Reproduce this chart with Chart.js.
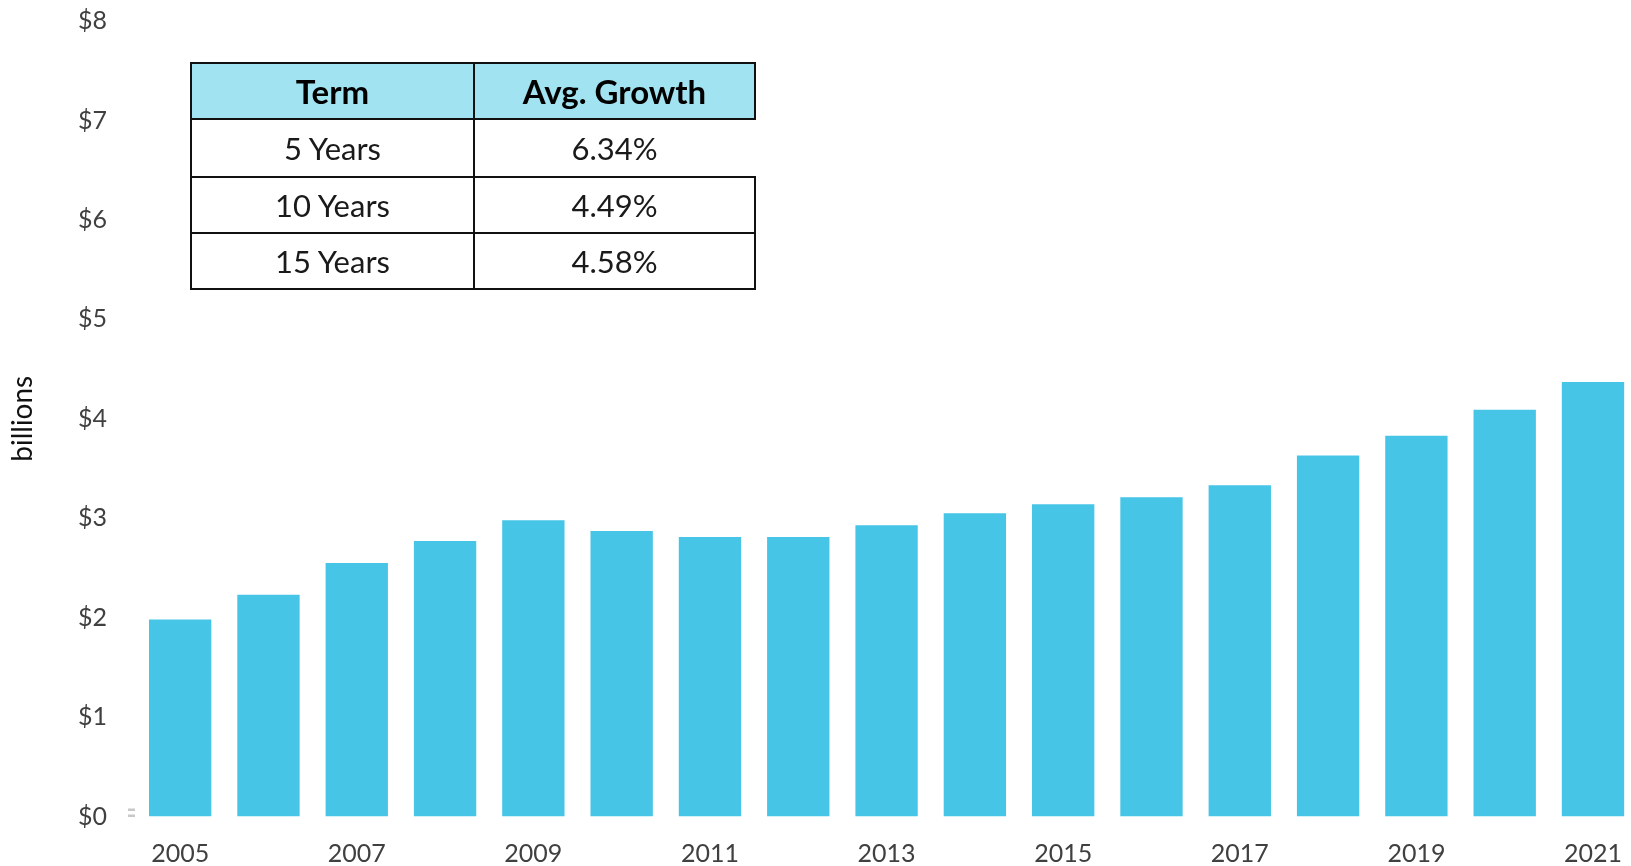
<!DOCTYPE html>
<html>
<head>
<meta charset="utf-8">
<script src="https://cdn.jsdelivr.net/npm/chart.js@4/dist/chart.umd.min.js"></script>
<style>
  html, body { margin: 0; padding: 0; overflow: hidden; background: #fff; }
  #wrap { position: relative; width: 1631px; height: 866px; overflow: hidden; }
  #grafico { position: absolute; left: 0; top: 0; }
  #tabela {
    position: absolute; left: 190px; top: 62px;
    border-collapse: collapse; font-family: Lato, "Open Sans", sans-serif;
  }
  #tabela th, #tabela td {
    border: 2px solid #111; text-align: center; padding: 0;
    font-size: 31px; color: #1a1a1a; line-height: 1;
  }
  #tabela th { background: #a2e3f1; font-weight: bold; font-size: 33px; height: 54px; color: #000; }
  #tabela td { height: 54px; }
  #tabela tr.primeira td { height: 56px; }
  #tabela tr.primeira td.semborda { border-right-color: transparent; }
</style>
</head>
<body>
<div id="wrap">
  <canvas id="grafico" width="1644" height="866"></canvas>
  <table id="tabela"></table>
</div>
<script>
// dados do grafico
var anos = ['2005', '2006', '2007', '2008', '2009', '2010', '2011', '2012', '2013',
            '2014', '2015', '2016', '2017', '2018', '2019', '2020', '2021'];
var valores = [1.98, 2.23, 2.55, 2.77, 2.98, 2.87, 2.81, 2.81, 2.93,
               3.05, 3.14, 3.21, 3.33, 3.63, 3.83, 4.09, 4.37];
var ticksY = [0, 1, 2, 3, 4, 5, 6, 7, 8];

// tabela de crescimento
var cabecalho = ['Term', 'Avg. Growth'];
var prazos = ['5 Years', '10 Years', '15 Years'];
var crescimento = ['6.34%', '4.49%', '4.58%'];

var fonte = 'Lato, "Open Sans", sans-serif';

$ = function(s) { return document.querySelector(s); };

(function montaTabela() {
	var t = $('#tabela');
	var html = '<tr><th style="width:281px">' + cabecalho[0] + '</th><th style="width:279px">' + cabecalho[1] + '</th></tr>';
	for (var i = 0; i < prazos.length; i++) {
		html += '<tr' + (i == 0 ? ' class="primeira"' : '') + '><td>' + prazos[i] + '</td><td' + (i == 0 ? ' class="semborda"' : '') + '>' + crescimento[i] + '</td></tr>';
	}
	t.innerHTML = html;
})();

// marquinha cinza perto do zero
var marcaZero = {
	id: 'marcaZero',
	afterDraw: function(chart) {
		var ctx = chart.ctx;
		var y0 = chart.scales.y.getPixelForValue(0);
		var x0 = chart.chartArea.left - 8;
		ctx.save();
		ctx.fillStyle = '#c8c8c8';
		ctx.fillRect(x0, y0 - 8, 7, 2.5);
		ctx.fillRect(x0, y0 - 2, 7, 2.5);
		ctx.restore();
	}
};

var ctx = $('#grafico').getContext('2d');
var grafico = new Chart(ctx, {
	type: 'bar',
	data: {
		labels: anos,
		datasets: [{
			data: valores,
			backgroundColor: '#46c5e6',
			barPercentage: 0.706,
			categoryPercentage: 1.0
		}]
	},
	options: {
		responsive: false,
		animation: false,
		devicePixelRatio: 1,
		layout: { padding: { top: 21, right: 0, bottom: 0, left: 0 } },
		plugins: {
			legend: { display: false },
			tooltip: { enabled: false }
		},
		scales: {
			x: {
				grid: { display: false, drawTicks: false },
				border: { display: false },
				afterFit: function(axis) { axis.height = 49.5; },
				ticks: {
					autoSkip: false,
					maxRotation: 0,
					padding: 22,
					color: '#404040',
					font: { family: fonte, size: 25 },
					callback: function(v, i) { return i % 2 == 0 ? anos[i] : ''; }
				}
			},
			y: {
				min: 0,
				max: 8,
				grid: { display: false, drawTicks: false },
				border: { display: false },
				afterFit: function(axis) {
					axis.width = 136;
					axis.paddingTop = 0;
					axis.paddingBottom = 0;
				},
				afterBuildTicks: function(axis) {
					axis.ticks = ticksY.map(function(v) { return { value: v }; });
				},
				ticks: {
					padding: 29,
					color: '#404040',
					font: { family: fonte, size: 25 },
					callback: function(v) { return '$' + v; }
				},
				title: {
					display: true,
					text: 'billions',
					color: '#111',
					font: { family: fonte, size: 28 },
					padding: { top: 6, bottom: 0 }
				}
			}
		}
	},
	plugins: [marcaZero]
});
</script>
</body>
</html>
